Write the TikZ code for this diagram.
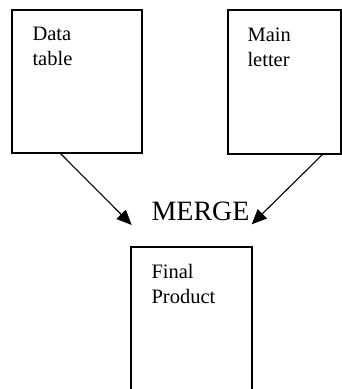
\documentclass[tikz,border=0pt]{standalone}
\usepackage{fontspec}
\setmainfont{Liberation Serif}
\usetikzlibrary{positioning,arrows.meta}

\begin{document}
\begin{tikzpicture}[x=1pt, y=1pt,
  page/.style={draw, line width=1.3pt, inner sep=0pt},
  note/.style={anchor=north west, align=left, inner sep=0pt,
               font=\fontsize{20.5}{25}\selectfont},
  flow/.style={-{Triangle[length=15pt,width=13pt]}, line width=1.1pt},
  ]
  \useasboundingbox (0,0) rectangle (342,389);

  % source documents
  \node[page, minimum width=130pt, minimum height=143pt,
        label={[note, xshift=21pt, yshift=-18pt]north west:Data\\table}]
    (data) at (77,307.5) {};
  \node[page, minimum width=113pt, minimum height=144pt,
        label={[note, xshift=20pt, yshift=-18pt]north west:Main\\letter}]
    (letter) at (284.5,307) {};

  % result (runs off the page)
  \node[page, minimum width=121pt, minimum height=162pt,
        label={[note, xshift=21pt, yshift=-18pt]north west:Final\\Product}]
    (final) at (191.5,61) {};

  \node[anchor=base, inner sep=0pt, font=\fontsize{28}{34}\selectfont]
    (merge) at (200.5,168) {MERGE};

  \coordinate (dataout) at (60,236);
  \coordinate (letterout) at (323,235);
  \coordinate (datain) at (131.7,164);
  \coordinate (letterin) at (251.7,164.7);

  \draw[flow] (dataout) -- (datain);
  \draw[flow] (letterout) -- (letterin);
\end{tikzpicture}
\end{document}
